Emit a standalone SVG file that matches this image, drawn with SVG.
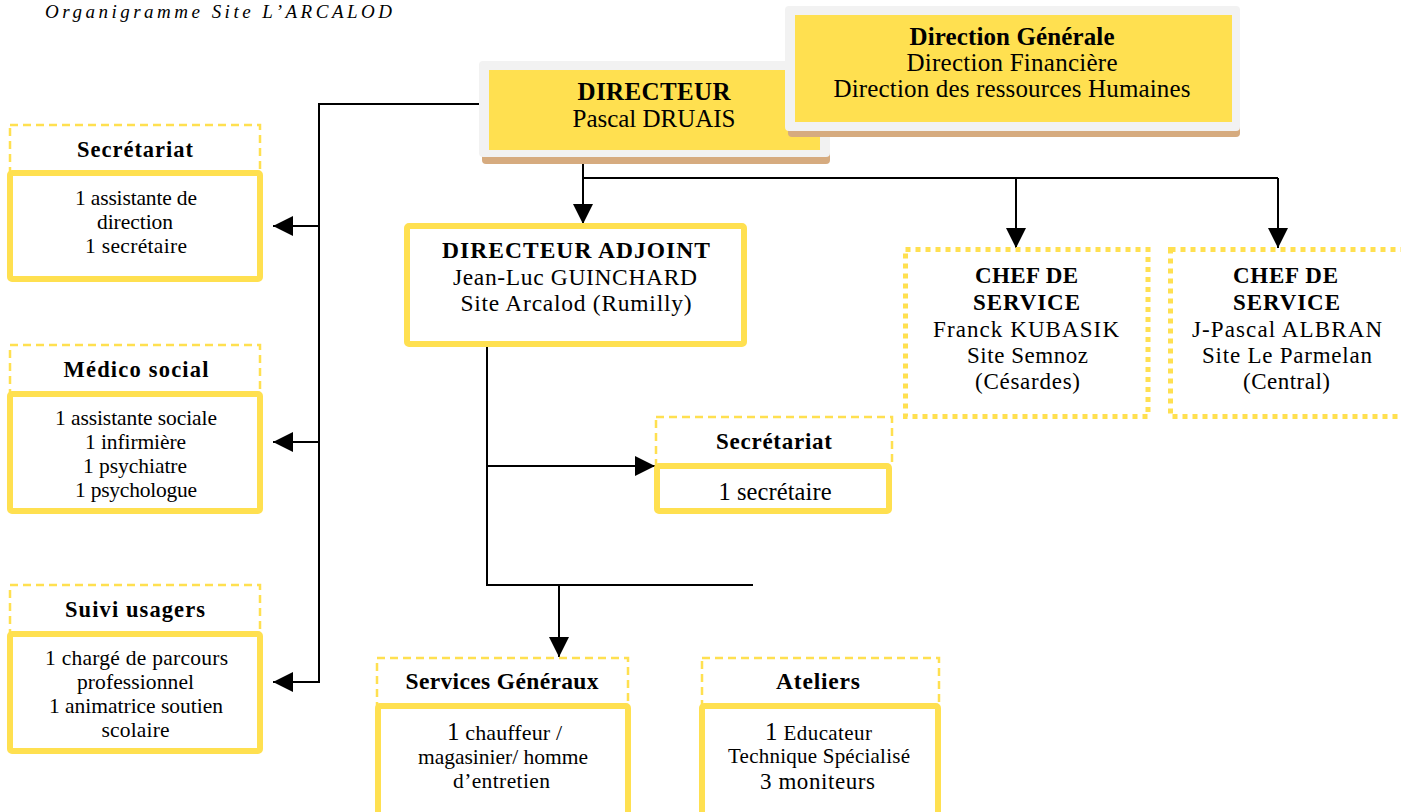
<svg xmlns="http://www.w3.org/2000/svg" width="1401" height="812" viewBox="0 0 1401 812">
<defs>
<style>
.t{font-family:"Liberation Serif","Times New Roman",serif;fill:#000;text-anchor:middle}
.b{font-weight:bold}
.hd{fill:none;stroke:#FFE050;stroke-width:2.5;stroke-dasharray:8 5}
.box{fill:#fff;stroke:#FFE050;stroke-width:6}
.dot{fill:#fff;stroke:#FFE050;stroke-width:5;stroke-dasharray:5 5}
.ln{fill:none;stroke:#000;stroke-width:2}
.shadow{fill:#D6AB7F}
.frame{fill:#F2F2F2}
.gold{fill:#FFE050}
</style>
<marker id="ah" viewBox="0 0 20 20" refX="20" refY="10" markerWidth="20" markerHeight="20" markerUnits="userSpaceOnUse" orient="auto">
<path d="M0,0 L20,10 L0,20 Z" fill="#000"/>
</marker>
</defs>
<rect width="1401" height="812" fill="#fff"/>
<text class="t" x="218.5" y="18" font-size="19" font-style="italic" textLength="347" lengthAdjust="spacing">Organigramme Site L’ARCALOD</text>

<g id="connectors">
<path class="ln" d="M484,104 H319 V682 H273" marker-end="url(#ah)"/>
<path class="ln" d="M319,226 H273" marker-end="url(#ah)"/>
<path class="ln" d="M319,442 H273" marker-end="url(#ah)"/>
<path class="ln" d="M583,152 V224" marker-end="url(#ah)"/>
<path class="ln" d="M583,178 H1278"/>
<path class="ln" d="M1016,178 V248" marker-end="url(#ah)"/>
<path class="ln" d="M1278,178 V248" marker-end="url(#ah)"/>
<path class="ln" d="M487,347 V585 H753"/>
<path class="ln" d="M487,466 H655" marker-end="url(#ah)"/>
<path class="ln" d="M559,585 V657" marker-end="url(#ah)"/>
</g>

<g id="directeur">
<rect class="shadow" x="482" y="68" width="348" height="96" rx="4"/>
<rect class="frame" x="479" y="61" width="351" height="96" rx="4"/>
<rect class="gold" x="489" y="70" width="331" height="80"/>
<text class="t b" x="654" y="100" font-size="25" textLength="153" lengthAdjust="spacing">DIRECTEUR</text>
<text class="t" x="654" y="127" font-size="25" textLength="163" lengthAdjust="spacing">Pascal DRUAIS</text>
</g>

<g id="direction-generale">
<rect class="shadow" x="788" y="13" width="452" height="124" rx="4"/>
<rect class="frame" x="785" y="6" width="455" height="125" rx="4"/>
<rect class="gold" x="795" y="15" width="437" height="107"/>
<text class="t b" x="1012" y="45" font-size="25" textLength="205" lengthAdjust="spacing">Direction Générale</text>
<text class="t" x="1012" y="71" font-size="25" textLength="211" lengthAdjust="spacing">Direction Financière</text>
<text class="t" x="1012" y="97" font-size="25" textLength="357" lengthAdjust="spacing">Direction des ressources Humaines</text>
</g>

<g id="secretariat-gauche">
<rect class="hd" x="10" y="125" width="250" height="48"/>
<rect class="box" x="10" y="173" width="250" height="106" rx="2"/>
<text class="t b" x="135" y="157" font-size="22.5" textLength="116" lengthAdjust="spacing">Secrétariat</text>
<text class="t" x="136" y="205" font-size="21.5" textLength="122" lengthAdjust="spacing">1 assistante de</text>
<text class="t" x="135" y="229" font-size="21.5" textLength="76" lengthAdjust="spacing">direction</text>
<text class="t" x="136" y="253" font-size="21.5" textLength="102" lengthAdjust="spacing">1 secrétaire</text>
</g>

<g id="medico-social">
<rect class="hd" x="10" y="345" width="250" height="49"/>
<rect class="box" x="10" y="394" width="250" height="117" rx="2"/>
<text class="t b" x="136" y="377" font-size="22.5" textLength="145" lengthAdjust="spacing">Médico social</text>
<text class="t" x="136" y="425" font-size="21.5" textLength="162" lengthAdjust="spacing">1 assistante sociale</text>
<text class="t" x="135.5" y="449" font-size="21.5" textLength="101" lengthAdjust="spacing">1 infirmière</text>
<text class="t" x="135" y="473" font-size="21.5" textLength="104" lengthAdjust="spacing">1 psychiatre</text>
<text class="t" x="136" y="497" font-size="21.5" textLength="122" lengthAdjust="spacing">1 psychologue</text>
</g>

<g id="suivi-usagers">
<rect class="hd" x="10" y="585" width="250" height="49"/>
<rect class="box" x="10" y="634" width="250" height="117" rx="2"/>
<text class="t b" x="135" y="617" font-size="22.5" textLength="140" lengthAdjust="spacing">Suivi usagers</text>
<text class="t" x="136.5" y="665" font-size="21.5" textLength="183" lengthAdjust="spacing">1 chargé de parcours</text>
<text class="t" x="135.5" y="689" font-size="21.5" textLength="117" lengthAdjust="spacing">professionnel</text>
<text class="t" x="136" y="713" font-size="21.5" textLength="174" lengthAdjust="spacing">1 animatrice soutien</text>
<text class="t" x="135.5" y="737" font-size="21.5" textLength="68" lengthAdjust="spacing">scolaire</text>
</g>

<g id="directeur-adjoint">
<rect class="box" x="407" y="226" width="337" height="118" rx="2"/>
<text class="t b" x="576" y="258" font-size="23.5" textLength="268" lengthAdjust="spacing">DIRECTEUR ADJOINT</text>
<text class="t" x="575" y="285" font-size="23.5" textLength="244" lengthAdjust="spacing">Jean-Luc GUINCHARD</text>
<text class="t" x="576" y="311" font-size="23.5" textLength="231" lengthAdjust="spacing">Site Arcalod (Rumilly)</text>
</g>

<g id="chef-service-1">
<rect class="dot" x="905.5" y="249.5" width="242.5" height="167"/>
<text class="t b" x="1026.5" y="283" font-size="23" textLength="103" lengthAdjust="spacing">CHEF DE</text>
<text class="t b" x="1026.5" y="310" font-size="23" textLength="107" lengthAdjust="spacing">SERVICE</text>
<text class="t" x="1026" y="337" font-size="23" textLength="186" lengthAdjust="spacing">Franck KUBASIK</text>
<text class="t" x="1027.5" y="363" font-size="23" textLength="121" lengthAdjust="spacing">Site Semnoz</text>
<text class="t" x="1027.5" y="389" font-size="23" textLength="105" lengthAdjust="spacing">(Césardes)</text>
</g>

<g id="chef-service-2">
<rect class="dot" x="1170.5" y="249.5" width="240" height="167"/>
<text class="t b" x="1285.5" y="283" font-size="23" textLength="105" lengthAdjust="spacing">CHEF DE</text>
<text class="t b" x="1286.5" y="310" font-size="23" textLength="107" lengthAdjust="spacing">SERVICE</text>
<text class="t" x="1287" y="337" font-size="23" textLength="190" lengthAdjust="spacing">J-Pascal ALBRAN</text>
<text class="t" x="1287" y="363" font-size="23" textLength="170" lengthAdjust="spacing">Site Le Parmelan</text>
<text class="t" x="1286.5" y="389" font-size="23" textLength="87" lengthAdjust="spacing">(Central)</text>
</g>

<g id="secretariat-adjoint">
<rect class="hd" x="656" y="417" width="236" height="49"/>
<rect class="box" x="657" y="466" width="232" height="45" rx="2"/>
<text class="t b" x="774" y="449" font-size="23" textLength="116" lengthAdjust="spacing">Secrétariat</text>
<text class="t" x="775" y="500" font-size="24.5" textLength="113" lengthAdjust="spacing">1 secrétaire</text>
</g>

<g id="services-generaux">
<rect class="hd" x="377" y="658" width="251" height="48"/>
<rect class="box" x="378" y="706" width="250" height="130" rx="2"/>
<text class="t b" x="502" y="689" font-size="23.5" textLength="193" lengthAdjust="spacing">Services Généraux</text>
<text class="t" x="504.5" y="740" font-size="22" textLength="115" lengthAdjust="spacing"><tspan font-size="25">1</tspan> chauffeur /</text>
<text class="t" x="503" y="764" font-size="21.5" textLength="170" lengthAdjust="spacing">magasinier/ homme</text>
<text class="t" x="501.5" y="788" font-size="21.5" textLength="97" lengthAdjust="spacing">d’entretien</text>
</g>

<g id="ateliers">
<rect class="hd" x="702" y="658" width="237" height="48"/>
<rect class="box" x="702" y="706" width="236" height="130" rx="2"/>
<text class="t b" x="818" y="689" font-size="23.5" textLength="84" lengthAdjust="spacing">Ateliers</text>
<text class="t" x="818.5" y="740" font-size="21" textLength="107" lengthAdjust="spacing"><tspan font-size="25">1</tspan> Educateur</text>
<text class="t" x="819" y="763" font-size="21" textLength="182" lengthAdjust="spacing">Technique Spécialisé</text>
<text class="t" x="817.5" y="789" font-size="23" textLength="115" lengthAdjust="spacing">3 moniteurs</text>
</g>
</svg>
